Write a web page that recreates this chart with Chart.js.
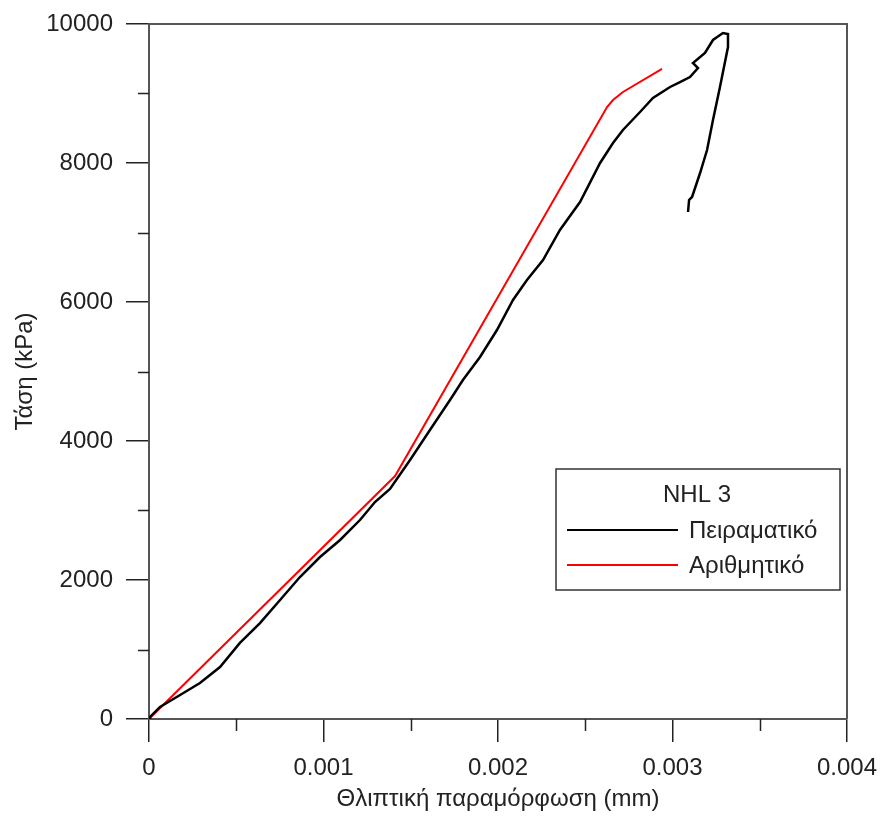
<!DOCTYPE html>
<html>
<head>
<meta charset="utf-8">
<style>
  html, body { margin: 0; padding: 0; background: #fff; }
  #wrap { width: 882px; height: 817px; }
</style>
</head>
<body>
<div id="wrap"><canvas id="stressChart" width="882" height="817"></canvas></div>

<script src="https://cdn.jsdelivr.net/npm/chart.js"></script>
<script>
  // Πειραματικό (μετρήσεις) - παραμόρφωση / τάση
  const strainExp = [0, 0.0000057, 0.0000630, 0.000178, 0.000292, 0.000407, 0.000521, 0.000636,
    0.000751, 0.000865, 0.000980, 0.001095, 0.001209, 0.001295, 0.001381, 0.001496, 0.001610,
    0.001725, 0.001799, 0.001897, 0.001994, 0.002086, 0.002166, 0.002258, 0.002355, 0.002470,
    0.002585, 0.002659, 0.002716, 0.002814, 0.002888, 0.002986, 0.003043, 0.003100, 0.003146,
    0.003117, 0.003186, 0.003232, 0.003289, 0.003318, 0.003318, 0.003272, 0.003232, 0.003198,
    0.003158, 0.003112, 0.003095, 0.003089];
  const stressExp = [0, 29, 173, 345, 518, 748, 1094, 1381,
    1712, 2043, 2331, 2576, 2863, 3122, 3309, 3727, 4158,
    4590, 4878, 5209, 5597, 6029, 6317, 6604, 7036, 7439,
    8000, 8288, 8475, 8734, 8935, 9094, 9165, 9237, 9367,
    9439, 9583, 9770, 9871, 9856, 9669, 9094, 8619, 8187,
    7856, 7511, 7468, 7295];

  // Αριθμητικό (προσομοίωση)
  const strainNum = [0, 0.001410, 0.002625, 0.002659, 0.002716, 0.002940];
  const stressNum = [0, 3496, 8806, 8906, 9022, 9353];

  const legendTitle = 'NHL 3';
  const seriesNames = ['Πειραματικό', 'Αριθμητικό'];
  const xTicks = [0, 0.001, 0.002, 0.003, 0.004];
  const xMinor = [0.0005, 0.0015, 0.0025, 0.0035];
  const yTicks = [0, 2000, 4000, 6000, 8000, 10000];
  const yMinor = [1000, 3000, 5000, 7000, 9000];

  const FONT = 'Liberation Sans, Arial, sans-serif';
  const INK = '#222';
  const AXIS = '#555';

  const pts = (xs, ys) => xs.map((x, i) => ({ x: x, y: ys[i] }));

  // πλαίσιο, δευτερεύουσες υποδιαιρέσεις και υπόμνημα
  const framePlugin = {
    id: 'frame',
    afterDraw(chart) {
      const { ctx, chartArea: a, scales } = chart;
      ctx.save();
      ctx.strokeStyle = AXIS;
      ctx.lineWidth = 2;
      ctx.beginPath();
      ctx.moveTo(a.left, a.top); ctx.lineTo(a.right, a.top); ctx.lineTo(a.right, a.bottom);
      ctx.stroke();

      ctx.strokeStyle = INK;
      ctx.lineWidth = 1.5;
      ctx.beginPath();
      xMinor.forEach(v => {
        const px = Math.round(scales.x.getPixelForValue(v)) + 0.5;
        ctx.moveTo(px, a.bottom); ctx.lineTo(px, a.bottom + 12);
      });
      yMinor.forEach(v => {
        const py = Math.round(scales.y.getPixelForValue(v)) + 0.5;
        ctx.moveTo(a.left, py); ctx.lineTo(a.left - 11, py);
      });
      ctx.stroke();

      // υπόμνημα
      const bx = 556, by = 469, bw = 284, bh = 121;
      ctx.fillStyle = '#fff';
      ctx.fillRect(bx, by, bw, bh);
      ctx.strokeStyle = '#333';
      ctx.lineWidth = 1.5;
      ctx.strokeRect(bx, by, bw, bh);
      ctx.fillStyle = INK;
      ctx.font = '24px ' + FONT;
      ctx.textBaseline = 'middle';
      ctx.textAlign = 'center';
      ctx.fillText(legendTitle, 697, 495);
      ctx.textAlign = 'left';
      chart.data.datasets.forEach((ds, i) => {
        const y = 530 + i * 35;
        ctx.strokeStyle = ds.borderColor;
        ctx.lineWidth = 2;
        ctx.beginPath();
        ctx.moveTo(567, y); ctx.lineTo(678, y);
        ctx.stroke();
        ctx.fillText(ds.label, 689, y + 1);
      });
      ctx.restore();
    }
  };

  const ctx = document.getElementById('stressChart').getContext('2d');
  new Chart(ctx, {
    type: 'scatter',
    data: {
      datasets: [
        {
          label: seriesNames[0],
          data: pts(strainExp, stressExp),
          showLine: true,
          borderColor: '#000',
          borderWidth: 2.5,
          pointRadius: 0,
          tension: 0
        },
        {
          label: seriesNames[1],
          data: pts(strainNum, stressNum),
          showLine: true,
          borderColor: '#ff0000',
          borderWidth: 2,
          pointRadius: 0,
          tension: 0
        }
      ]
    },
    options: {
      responsive: false,
      animation: false,
      events: [],
      layout: { padding: { top: 24, right: 35, left: 0, bottom: 0 } },
      plugins: { legend: { display: false }, tooltip: { enabled: false } },
      scales: {
        x: {
          type: 'linear',
          min: 0, max: 0.004,
          afterBuildTicks: s => { s.ticks = xTicks.map(v => ({ value: v })); },
          afterFit: s => { s.height = 98; s.paddingLeft = 0; s.paddingRight = 0; },
          ticks: {
            color: INK, font: { family: FONT, size: 24 }, padding: 12,
            maxRotation: 0,
            callback: v => String(v)
          },
          grid: { drawOnChartArea: false, color: INK, lineWidth: 1.5, tickLength: 23 },
          border: { color: AXIS, width: 2 },
          title: {
            display: true, text: 'Θλιπτική παραμόρφωση (mm)', color: INK,
            font: { family: FONT, size: 24 }, padding: { top: 0, bottom: 3 }
          }
        },
        y: {
          type: 'linear',
          min: 0, max: 10000,
          afterBuildTicks: s => { s.ticks = yTicks.map(v => ({ value: v })); },
          afterFit: s => { s.width = 149; s.paddingTop = 0; s.paddingBottom = 0; },
          ticks: {
            color: INK, font: { family: FONT, size: 24 }, padding: 13,
            callback: v => String(v)
          },
          grid: { drawOnChartArea: false, color: INK, lineWidth: 1.5, tickLength: 23 },
          border: { color: AXIS, width: 2 },
          title: {
            display: true, text: 'Τάση (kPa)', color: INK,
            font: { family: FONT, size: 24 }, padding: { top: 11, bottom: 0 }
          }
        }
      }
    },
    plugins: [framePlugin]
  });
</script>
</body>
</html>
